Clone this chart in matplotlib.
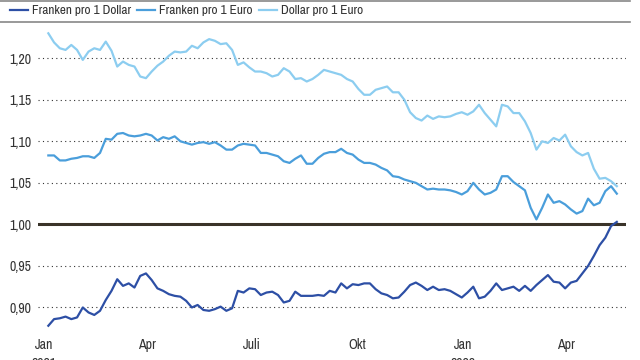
import pandas as pd
import numpy as np
import matplotlib
matplotlib.use('Agg')
import matplotlib.pyplot as plt
from matplotlib.lines import Line2D
from matplotlib.ticker import FuncFormatter
from matplotlib import font_manager

# look for a narrow sans face, the original uses a condensed font
font_name, font_stretch = 'Liberation Sans', 'normal'
entries = font_manager.fontManager.ttflist
found = False
for want in ['Narrow', 'SemiCondensed', 'Semi Condensed', 'Condensed']:
    for f in entries:
        if want in f.name and f.style == 'normal' and f.weight in (400, 'normal', 'regular') \
                and 'Mono' not in f.name and 'Serif' not in f.name:
            font_name, found = f.name, True
            break
    if found:
        break
if not found:
    for f in entries:
        if f.stretch in ('condensed', 'semi-condensed') and f.style == 'normal' \
                and 'Mono' not in f.name and 'Serif' not in f.name:
            font_name, font_stretch, found = f.name, f.stretch, True
            break

plt.rcParams['font.family'] = [font_name, 'DejaVu Sans']
plt.rcParams['font.stretch'] = font_stretch
size_scale = 1.0 if found else 0.88

# one reading every 5 days, starting 5 Jan 2021
dates = pd.date_range('2021-01-05', periods=100, freq='5D')

chf_per_usd = [
    0.878, 0.886, 0.887, 0.889, 0.886, 0.888, 0.900, 0.894, 0.891, 0.896,
    0.909, 0.920, 0.934, 0.926, 0.929, 0.924, 0.938, 0.941, 0.933, 0.923,
    0.920, 0.916, 0.914, 0.913, 0.908, 0.900, 0.903, 0.897, 0.896, 0.898,
    0.901, 0.896, 0.899, 0.920, 0.918, 0.923, 0.922, 0.915, 0.918, 0.919,
    0.915, 0.906, 0.908, 0.919, 0.914, 0.914, 0.914, 0.915, 0.914, 0.920,
    0.918, 0.929, 0.923, 0.928, 0.927, 0.929, 0.929, 0.922, 0.917, 0.915,
    0.911, 0.912, 0.919, 0.927, 0.930, 0.926, 0.921, 0.925, 0.921, 0.922,
    0.920, 0.916, 0.912, 0.918, 0.925, 0.911, 0.913, 0.920, 0.929, 0.921,
    0.923, 0.925, 0.920, 0.926, 0.920, 0.927, 0.933, 0.939, 0.931, 0.930,
    0.923, 0.930, 0.932, 0.941, 0.950, 0.962, 0.975, 0.984, 0.998, 1.003,
]

chf_per_eur = [
    1.083, 1.083, 1.077, 1.077, 1.079, 1.080, 1.082, 1.082, 1.080, 1.086,
    1.103, 1.102, 1.109, 1.110, 1.107, 1.106, 1.107, 1.109, 1.107, 1.101,
    1.105, 1.103, 1.106, 1.100, 1.098, 1.096, 1.098, 1.099, 1.097, 1.099,
    1.095, 1.090, 1.090, 1.095, 1.097, 1.096, 1.095, 1.086, 1.086, 1.084,
    1.082, 1.076, 1.074, 1.079, 1.083, 1.073, 1.073, 1.080, 1.085, 1.087,
    1.087, 1.091, 1.086, 1.084, 1.078, 1.074, 1.074, 1.072, 1.068, 1.065,
    1.058, 1.057, 1.054, 1.052, 1.050, 1.046, 1.042, 1.043, 1.042, 1.042,
    1.041, 1.039, 1.036, 1.040, 1.050, 1.042, 1.036, 1.038, 1.042, 1.058,
    1.058, 1.051, 1.046, 1.041, 1.020, 1.006, 1.020, 1.036, 1.026, 1.028,
    1.024, 1.018, 1.013, 1.016, 1.031, 1.023, 1.026, 1.040, 1.046, 1.037,
]

usd_per_eur = [
    1.230, 1.219, 1.212, 1.210, 1.216, 1.210, 1.198, 1.208, 1.212, 1.210,
    1.220, 1.209, 1.190, 1.196, 1.192, 1.190, 1.178, 1.176, 1.184, 1.191,
    1.196, 1.203, 1.208, 1.207, 1.208, 1.215, 1.212, 1.219, 1.223, 1.221,
    1.217, 1.218, 1.210, 1.192, 1.195, 1.189, 1.184, 1.184, 1.182, 1.178,
    1.180, 1.188, 1.184, 1.175, 1.176, 1.172, 1.175, 1.180, 1.186, 1.184,
    1.182, 1.180, 1.175, 1.172, 1.163, 1.156, 1.156, 1.162, 1.164, 1.166,
    1.159, 1.159, 1.150, 1.135, 1.128, 1.125, 1.131, 1.127, 1.130, 1.129,
    1.130, 1.133, 1.135, 1.132, 1.136, 1.144, 1.134, 1.126, 1.118, 1.144,
    1.142, 1.134, 1.134, 1.124, 1.110, 1.090, 1.100, 1.098, 1.104, 1.101,
    1.108, 1.094, 1.087, 1.083, 1.086, 1.067, 1.055, 1.056, 1.052, 1.046,
]

series_names = ['Franken pro 1 Dollar', 'Franken pro 1 Euro', 'Dollar pro 1 Euro']
series_colors = ['#2d4fa5', '#4a9edb', '#8ccdf0']

y_ticks = [0.90, 0.95, 1.00, 1.05, 1.10, 1.15, 1.20]
x_tick_dates = ['2021-01-01', '2021-04-01', '2021-07-01', '2021-10-01', '2022-01-01', '2022-04-01']
x_tick_labels = ['Jan\n2021', 'Apr', 'Juli', 'Okt', 'Jan\n2022', 'Apr']

fig = plt.figure(figsize=(6.4, 3.6), dpi=100)
ax = fig.add_axes([38 / 640, 1 - 332.4 / 360, 588 / 640, 307.4 / 360])

for y in y_ticks:
    if y == 1.00:
        ax.axhline(y, color='#3b3328', lw=2.2, zorder=1)
    ax.axhline(y, color='#333333', lw=0.8, ls=(0, (1, 3)), zorder=1.5)

for vals, name, col in zip([chf_per_usd, chf_per_eur, usd_per_eur], series_names, series_colors):
    ax.plot(dates, vals, color=col, lw=1.6, label=name, zorder=3, solid_joinstyle='round')

ax.set_xlim(pd.Timestamp('2020-12-27'), pd.Timestamp('2022-05-23'))
ax.set_ylim(0.87, 1.24)
ax.set_yticks(y_ticks)
ax.yaxis.set_major_formatter(FuncFormatter(lambda v, p: f'{v:.2f}'.replace('.', ',')))
ax.set_xticks(pd.to_datetime(x_tick_dates))
ax.set_xticklabels(x_tick_labels, linespacing=1.45, va='top')
ax.tick_params(axis='both', length=0, labelsize=10 * size_scale, colors='#333333')
ax.tick_params(axis='y', pad=5)
ax.tick_params(axis='x', pad=4)
for s in ax.spines.values():
    s.set_visible(False)
ax.patch.set_visible(False)

fig.legend(loc='center left', bbox_to_anchor=(10 / 640, 1 - 10.5 / 360), ncol=3, frameon=False,
           fontsize=9.6 * size_scale, handlelength=1.35, handletextpad=0.3, columnspacing=0.45,
           borderpad=0, borderaxespad=0, labelcolor='#333333')

fig.add_artist(Line2D([0, 0.984], [0.998, 0.998], color='#888888', lw=1.2))
fig.add_artist(Line2D([0, 0.984], [0.940, 0.940], color='#888888', lw=1.2))

fig.savefig('out.png', dpi=100)
